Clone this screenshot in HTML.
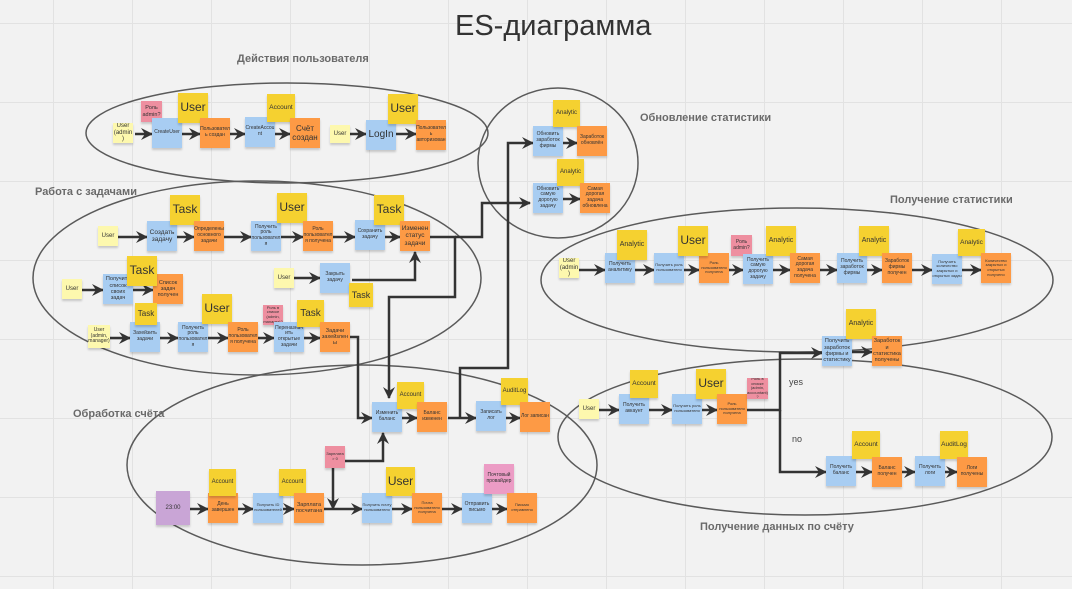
<!DOCTYPE html>
<html><head><meta charset="utf-8"><style>
body{margin:0;width:1072px;height:589px;overflow:hidden;background:#f2f2f2;font-family:"Liberation Sans","DejaVu Sans",sans-serif;position:relative}
.s{position:absolute;width:30px;height:30px;display:flex;align-items:center;justify-content:center;text-align:center;font-size:5px;line-height:1.15;color:#333;box-shadow:0 2px 2px rgba(0,0,0,.18);overflow:hidden;word-break:break-word}
.b{background:#a8cdf2}.o{background:#fd9a45}.y{background:#f5d130;font-size:12px}.l{background:#fdf8ae;width:20px;height:20px;font-size:6px}
.p{background:#ee8fa0;width:21px;height:21px;font-size:4.5px}.m{font-size:7px}.t{font-size:6.5px}
.lb{position:absolute;font-size:11px;font-weight:bold;color:#6a6a6a;white-space:nowrap}
svg{position:absolute;left:0;top:0}
</style></head><body>
<svg width="1072" height="589">
<defs><marker id="a" markerUnits="userSpaceOnUse" markerWidth="12" markerHeight="12" refX="11" refY="6" orient="auto"><path d="M0,0 L12,6 L0,12 L4,6z" fill="#333"/></marker>
<pattern id="g" width="79" height="79" patternUnits="userSpaceOnUse" x="53" y="23"><path d="M0,0H79M0,0V79" stroke="#e2e2e2" stroke-width="2" fill="none"/></pattern></defs>
<rect width="1072" height="589" fill="url(#g)"/>
<g fill="none" stroke="#5a5a5a" stroke-width="1.5">
<ellipse cx="287" cy="133" rx="201" ry="50"/>
<ellipse cx="558" cy="163" rx="80" ry="75"/>
<ellipse cx="257" cy="278" rx="224" ry="97"/>
<ellipse cx="797" cy="280" rx="256" ry="72"/>
<ellipse cx="362" cy="465" rx="235" ry="100"/>
<ellipse cx="805" cy="437" rx="247" ry="78"/>
</g>
<g fill="none" stroke="#333" stroke-width="2.5" marker-end="url(#a)">
<path d="M135,134H152"/><path d="M182,134H200"/><path d="M230,134H245"/><path d="M275,134H290"/><path d="M350,134H366"/><path d="M396,134H416"/>
<path d="M118,237H147"/><path d="M177,237H194"/><path d="M224,237H251"/><path d="M281,237H303"/><path d="M333,237H355"/><path d="M385,237H400"/>
<path d="M82,290H103"/><path d="M133,290H153"/><path d="M294,278H320"/>
<path d="M110,338H130"/><path d="M160,338H178"/><path d="M208,338H228"/><path d="M258,338H274"/><path d="M304,338H320"/>
<path d="M190,509H208"/><path d="M238,509H253"/><path d="M283,509H294"/><path d="M324,509H362"/><path d="M392,509H412"/><path d="M442,509H462"/><path d="M492,509H507"/>
<path d="M402,418H417"/><path d="M506,418H520"/><path d="M448,418H476"/>
<path d="M563,143H577"/><path d="M563,199H580"/>
<path d="M579,270H605"/><path d="M635,270H654"/><path d="M684,270H699"/><path d="M729,270H743"/><path d="M773,270H790"/><path d="M820,270H837"/><path d="M867,270H882"/><path d="M912,270H932"/><path d="M962,270H981"/>
<path d="M599,410H619"/><path d="M649,410H672"/><path d="M702,410H717"/><path d="M852,352H872"/><path d="M856,472H872"/><path d="M902,472H915"/><path d="M945,472H957"/>
<path d="M430,237H455V297H389V398"/>
<path d="M455,237H482V203H530"/>
<path d="M460,418V368H508V143H533"/>
<path d="M352,280H415V252"/>
<path d="M350,337H358V418H372"/>
<path d="M333,468V509"/>
<path d="M345,461H383V433"/>
<path d="M747,410H780V353H822"/>
<path d="M780,410V472H826"/>
</g>
</svg>
<div style="position:absolute;left:455px;top:10px;font-size:29px;color:#333">ES-диаграмма</div>
<div class="lb" style="left:237px;top:53px">Действия пользователя</div>
<div class="lb" style="left:35px;top:186px">Работа с задачами</div>
<div class="lb" style="left:640px;top:112px">Обновление статистики</div>
<div class="lb" style="left:890px;top:194px">Получение статистики</div>
<div class="lb" style="left:73px;top:408px">Обработка счёта</div>
<div class="lb" style="left:700px;top:521px">Получение данных по счёту</div>
<div style="position:absolute;left:789px;top:377px;font-size:9px;color:#444">yes</div>
<div style="position:absolute;left:792px;top:434px;font-size:9px;color:#444">no</div>

<div class="s l" style="left:113px;top:123px">User (admin)</div>
<div class="s p" style="left:141px;top:101px;font-size:5.5px">Роль admin?</div>
<div class="s b" style="left:152px;top:118px">CreateUser</div>
<div class="s y" style="left:178px;top:93px">User</div>
<div class="s o" style="left:200px;top:118px">Пользователь создан</div>
<div class="s b" style="left:245px;top:117px">CreateAccount</div>
<div class="s y" style="left:267px;top:94px;width:28px;height:28px;font-size:6.5px">Account</div>
<div class="s o" style="left:290px;top:118px;font-size:8px">Счёт создан</div>
<div class="s l" style="left:330px;top:125px;height:18px">User</div>
<div class="s b" style="left:366px;top:120px;font-size:10px">LogIn</div>
<div class="s y" style="left:388px;top:94px">User</div>
<div class="s o" style="left:416px;top:120px">Пользователь авторизован</div>

<div class="s l" style="left:98px;top:226px">User</div>
<div class="s b t" style="left:147px;top:221px">Создать задачу</div>
<div class="s y" style="left:170px;top:195px">Task</div>
<div class="s o" style="left:194px;top:221px">Определены основного задачи</div>
<div class="s b" style="left:251px;top:221px">Получить роль пользователя</div>
<div class="s y" style="left:277px;top:193px">User</div>
<div class="s o" style="left:303px;top:221px">Роль пользователя получена</div>
<div class="s b" style="left:355px;top:220px">Сохранить задачу</div>
<div class="s y" style="left:374px;top:195px">Task</div>
<div class="s o t" style="left:400px;top:221px">Изменен статус задачи</div>
<div class="s l" style="left:62px;top:279px">User</div>
<div class="s b" style="left:103px;top:274px;font-size:5.5px">Получить список своих задач</div>
<div class="s o" style="left:153px;top:274px;font-size:5.5px">Список задач получен</div>
<div class="s y" style="left:127px;top:256px">Task</div>
<div class="s l" style="left:274px;top:268px">User</div>
<div class="s b" style="left:320px;top:263px">Закрыть задачу</div>
<div class="s y" style="left:349px;top:283px;width:24px;height:24px;font-size:9px">Task</div>
<div class="s l" style="left:88px;top:325px;width:22px;height:23px;font-size:5px">User (admin, manager)</div>
<div class="s b" style="left:130px;top:322px">Захейзить задачи</div>
<div class="s y" style="left:135px;top:303px;width:22px;height:22px;font-size:8px">Task</div>
<div class="s b" style="left:178px;top:322px">Получить роль пользователя</div>
<div class="s y" style="left:202px;top:294px">User</div>
<div class="s o" style="left:228px;top:322px">Роль пользователя получена</div>
<div class="s p" style="left:263px;top:305px;width:20px;height:20px;font-size:4px">Роль в списке (admin, manager)?</div>
<div class="s b" style="left:274px;top:322px">Переназначить открытые задачи</div>
<div class="s y" style="left:297px;top:300px;width:27px;height:27px;font-size:10px">Task</div>
<div class="s o" style="left:320px;top:322px;font-size:5.5px">Задачи захейзлены</div>

<div class="s b" style="left:372px;top:402px">Изменить баланс</div>
<div class="s y" style="left:397px;top:382px;width:27px;height:27px;font-size:6px">Account</div>
<div class="s o" style="left:417px;top:402px">Баланс изменен</div>
<div class="s b" style="left:476px;top:401px">Записать лог</div>
<div class="s y" style="left:501px;top:378px;width:27px;height:27px;font-size:6px">AuditLog</div>
<div class="s o" style="left:520px;top:402px">Лог записан</div>
<div class="s p" style="left:325px;top:446px;width:20px;height:22px;font-size:4px">Зарплата &gt; 0</div>
<div class="s" style="left:156px;top:491px;width:34px;height:34px;background:#c9a5d6;font-size:6px">23:00</div>
<div class="s o" style="left:208px;top:493px">День завершен</div>
<div class="s y" style="left:209px;top:469px;width:27px;height:27px;font-size:6px">Account</div>
<div class="s b" style="left:253px;top:493px;font-size:4px">Получить ID пользователей</div>
<div class="s y" style="left:279px;top:469px;width:27px;height:27px;font-size:6px">Account</div>
<div class="s o" style="left:294px;top:493px;font-size:5.5px">Зарплата посчитана</div>
<div class="s b" style="left:362px;top:493px;font-size:4px">Получить почту пользователя</div>
<div class="s y" style="left:386px;top:467px;width:29px;height:29px">User</div>
<div class="s o" style="left:412px;top:493px;font-size:4px">Почта пользователя получена</div>
<div class="s b" style="left:462px;top:493px">Отправить письмо</div>
<div class="s" style="left:484px;top:464px;background:#ec9cc5;font-size:5px">Почтовый провайдер</div>
<div class="s o" style="left:507px;top:493px;font-size:4px">Письмо отправлено</div>

<div class="s b" style="left:533px;top:126px">Обновить заработок фирмы</div>
<div class="s y" style="left:553px;top:100px;width:27px;height:27px;font-size:6px">Analytic</div>
<div class="s o" style="left:577px;top:126px">Заработок обновлён</div>
<div class="s b" style="left:533px;top:183px">Обновить самую дорогую задачу</div>
<div class="s y" style="left:557px;top:159px;width:27px;height:27px;font-size:6px">Analytic</div>
<div class="s o" style="left:580px;top:183px">Самая дорогая задача обновлена</div>

<div class="s l" style="left:559px;top:258px">User (admin)</div>
<div class="s b" style="left:605px;top:253px">Получить аналитику</div>
<div class="s y" style="left:617px;top:230px;font-size:7px">Analytic</div>
<div class="s b" style="left:654px;top:253px;font-size:4px">Получить роль пользователя</div>
<div class="s o" style="left:699px;top:253px;font-size:4px">Роль пользователя получена</div>
<div class="s y" style="left:678px;top:226px">User</div>
<div class="s p" style="left:731px;top:235px;font-size:5px">Роль admin?</div>
<div class="s b" style="left:743px;top:254px">Получить самую дорогую задачу</div>
<div class="s y" style="left:766px;top:226px;font-size:7px">Analytic</div>
<div class="s o" style="left:790px;top:253px">Самая дорогая задача получена</div>
<div class="s b" style="left:837px;top:253px">Получить заработок фирмы</div>
<div class="s y" style="left:859px;top:226px;font-size:7px">Analytic</div>
<div class="s o" style="left:882px;top:253px">Заработок фирмы получен</div>
<div class="s b" style="left:932px;top:254px;font-size:4px">Получить количество закрытых и открытых задач</div>
<div class="s y" style="left:958px;top:229px;width:27px;height:27px;font-size:6.5px">Analytic</div>
<div class="s o" style="left:981px;top:253px;font-size:4px">Количество закрытых и открытых получено</div>

<div class="s l" style="left:579px;top:399px">User</div>
<div class="s b" style="left:619px;top:394px">Получить аккаунт</div>
<div class="s y" style="left:630px;top:370px;width:28px;height:28px;font-size:6.5px">Account</div>
<div class="s b" style="left:672px;top:394px;font-size:4px">Получить роль пользователя</div>
<div class="s y" style="left:696px;top:369px">User</div>
<div class="s o" style="left:717px;top:394px;font-size:4px">Роль пользователя получена</div>
<div class="s p" style="left:747px;top:378px;font-size:4px">Роль в списке (admin, accountant)?</div>
<div class="s b" style="left:822px;top:336px;font-size:5.5px">Получить заработок фирмы и статистику</div>
<div class="s y" style="left:846px;top:309px;font-size:7px">Analytic</div>
<div class="s o" style="left:872px;top:336px;font-size:5.5px">Заработок и статистика получены</div>
<div class="s b" style="left:826px;top:456px">Получить баланс</div>
<div class="s y" style="left:852px;top:431px;width:28px;height:28px;font-size:6.5px">Account</div>
<div class="s o" style="left:872px;top:457px">Баланс получен</div>
<div class="s b" style="left:915px;top:456px">Получить логи</div>
<div class="s y" style="left:940px;top:431px;width:28px;height:28px;font-size:6.5px">AuditLog</div>
<div class="s o" style="left:957px;top:457px">Логи получены</div>
</body></html>
